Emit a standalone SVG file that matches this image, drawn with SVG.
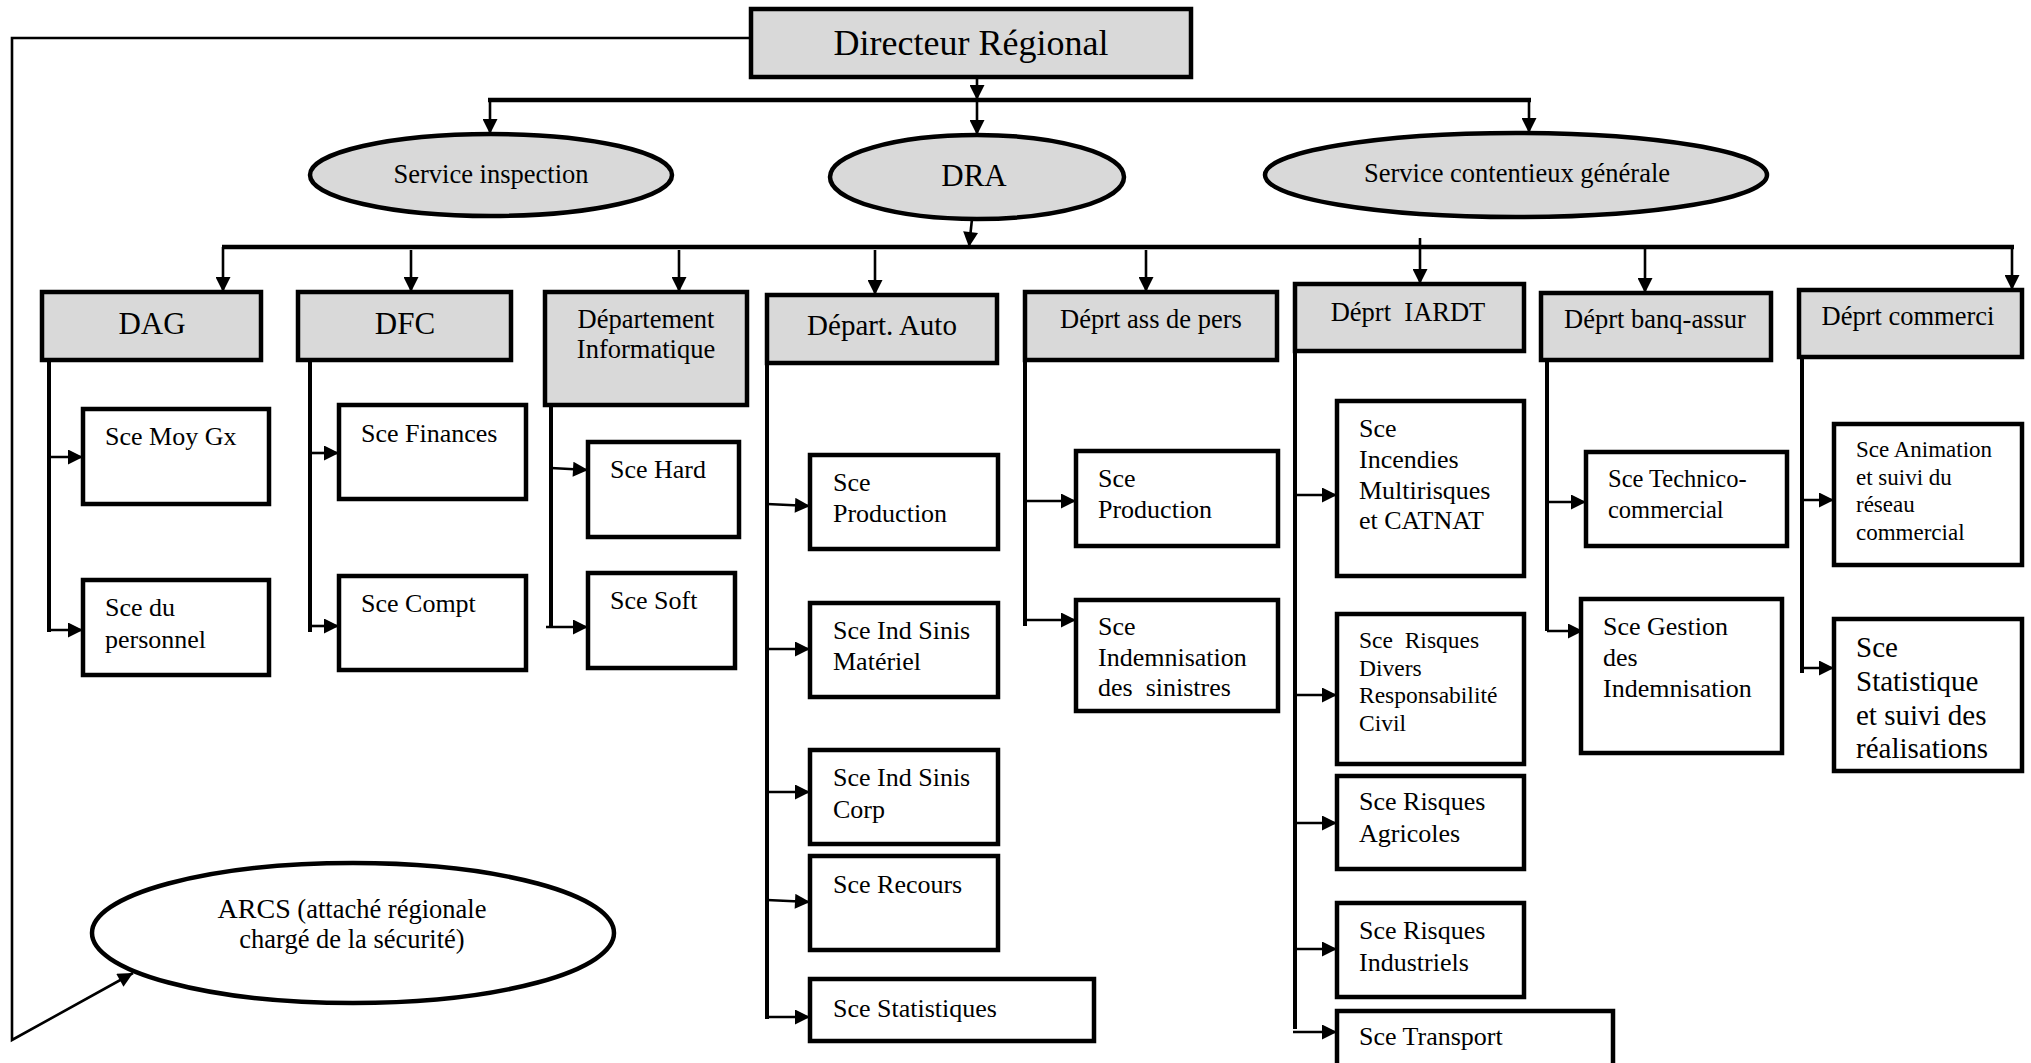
<svg xmlns="http://www.w3.org/2000/svg" width="2031" height="1063" viewBox="0 0 2031 1063">
  <style>
    text { font-family: "Liberation Serif", "Times New Roman", serif; fill: #000; }
    .head { fill: #d9d9d9; stroke: #000; stroke-width: 4.5; }
    .box { fill: #fff; stroke: #000; stroke-width: 4.5; }
    .oval { fill: #d9d9d9; stroke: #000; stroke-width: 4.5; }
    .ln { fill: none; stroke: #000; stroke-width: 2.6; }
    .col { fill: none; stroke: #000; stroke-width: 4; }
    .bar { fill: none; stroke: #000; stroke-width: 4.5; }
    .arr { marker-end: url(#tip); }
    .t2 { font-size: 26.5px; text-anchor: middle; }
    .t3 { font-size: 26px; }
  </style>
  <defs>
    <marker id="tip" viewBox="0 0 10 10" refX="10" refY="5" markerUnits="userSpaceOnUse" markerWidth="16" markerHeight="15" orient="auto">
      <path d="M0,0 L10,5 L0,10 z" fill="#000"/>
    </marker>
  </defs>

  <rect width="2031" height="1063" fill="#fff"/>

  <!-- connectors -->
  <g id="connectors">
    <!-- direct line from the director to ARCS -->
    <polyline class="ln arr" stroke-width="3.2" points="751,38 12,38 12,1040 133,973"/>
    <!-- director to first level -->
    <line class="ln arr" x1="977" y1="77" x2="977" y2="100"/>
    <line class="bar" x1="488" y1="100" x2="1531" y2="100"/>
    <line class="ln arr" x1="490" y1="100" x2="490" y2="134"/>
    <line class="ln arr" x1="977" y1="100" x2="977" y2="135"/>
    <line class="ln arr" x1="1529" y1="100" x2="1529" y2="133"/>
    <!-- DRA to departments -->
    <line class="ln arr" x1="972" y1="219" x2="969" y2="247"/>
    <line class="bar" x1="222" y1="247" x2="2014" y2="247"/>
    <line class="ln arr" x1="223" y1="247" x2="223" y2="292"/>
    <line class="ln arr" x1="411" y1="250" x2="411" y2="292"/>
    <line class="ln arr" x1="679" y1="250" x2="679" y2="292"/>
    <line class="ln arr" x1="875" y1="250" x2="875" y2="295"/>
    <line class="ln arr" x1="1146" y1="250" x2="1146" y2="292"/>
    <line class="ln arr" x1="1420" y1="238" x2="1420" y2="284"/>
    <line class="ln arr" x1="1645" y1="247" x2="1645" y2="293"/>
    <line class="ln arr" x1="2012" y1="247" x2="2012" y2="290"/>

    <!-- DAG services -->
    <line class="col" x1="49" y1="360" x2="49" y2="632"/>
    <line class="ln arr" x1="49" y1="457" x2="83" y2="457"/>
    <line class="ln arr" x1="49" y1="630" x2="83" y2="630"/>
    <!-- DFC services -->
    <line class="col" x1="310" y1="360" x2="310" y2="632"/>
    <line class="ln arr" x1="312" y1="453" x2="339" y2="453"/>
    <line class="ln arr" x1="312" y1="626" x2="339" y2="626"/>
    <!-- IT services -->
    <line class="col" x1="551" y1="405" x2="551" y2="628"/>
    <line class="ln arr" x1="551" y1="468" x2="588" y2="470"/>
    <line class="ln arr" x1="546" y1="627" x2="588" y2="627"/>
    <!-- Auto services -->
    <line class="col" x1="767" y1="363" x2="767" y2="1019"/>
    <line class="ln arr" x1="767" y1="504" x2="810" y2="506"/>
    <line class="ln arr" x1="767" y1="649" x2="810" y2="649"/>
    <line class="ln arr" x1="767" y1="792" x2="810" y2="792"/>
    <line class="ln arr" x1="767" y1="900" x2="810" y2="902"/>
    <line class="ln arr" x1="767" y1="1017" x2="810" y2="1017"/>
    <!-- personal insurance services -->
    <line class="col" x1="1025" y1="360" x2="1025" y2="626"/>
    <line class="ln arr" x1="1025" y1="501" x2="1076" y2="501"/>
    <line class="ln arr" x1="1025" y1="620" x2="1076" y2="620"/>
    <!-- IARDT services -->
    <line class="col" x1="1295" y1="351" x2="1295" y2="1029"/>
    <line class="ln arr" x1="1295" y1="495" x2="1337" y2="495"/>
    <line class="ln arr" x1="1295" y1="695" x2="1337" y2="695"/>
    <line class="ln arr" x1="1295" y1="823" x2="1337" y2="823"/>
    <line class="ln arr" x1="1295" y1="949" x2="1337" y2="949"/>
    <line class="ln arr" x1="1293" y1="1032" x2="1337" y2="1032"/>
    <!-- bancassurance services -->
    <line class="col" x1="1547" y1="360" x2="1547" y2="631"/>
    <line class="ln arr" x1="1547" y1="502" x2="1586" y2="502"/>
    <line class="ln arr" x1="1547" y1="631" x2="1583" y2="631"/>
    <!-- commercial services -->
    <line class="col" x1="1802" y1="357" x2="1802" y2="673"/>
    <line class="ln arr" x1="1800" y1="500" x2="1834" y2="500"/>
    <line class="ln arr" x1="1800" y1="668" x2="1834" y2="668"/>
  </g>

  <!-- top -->
  <g id="directeur">
    <rect class="head" x="751" y="9" width="440" height="68"/>
    <text x="971" y="55" font-size="36" text-anchor="middle">Directeur Régional</text>
  </g>
  <g id="service-inspection">
    <ellipse class="oval" cx="491" cy="175" rx="181" ry="41"/>
    <text x="491" y="183" font-size="26.5" text-anchor="middle">Service inspection</text>
  </g>
  <g id="dra">
    <ellipse class="oval" cx="977" cy="177" rx="147" ry="42"/>
    <text x="974" y="186" font-size="31" text-anchor="middle">DRA</text>
  </g>
  <g id="service-contentieux">
    <ellipse class="oval" cx="1516" cy="175" rx="251" ry="42"/>
    <text x="1517" y="182" font-size="26.5" text-anchor="middle">Service contentieux générale</text>
  </g>
  <g id="arcs">
    <ellipse cx="353" cy="933" rx="261" ry="70" fill="#fff" stroke="#000" stroke-width="4.5"/>
    <text x="352" y="918" font-size="26.5" text-anchor="middle"><tspan font-size="28">ARCS</tspan> (attaché régionale</text>
    <text x="352" y="948" font-size="26.5" text-anchor="middle">chargé de la sécurité)</text>
  </g>

  <!-- departments -->
  <g id="dag">
    <rect class="head" x="42" y="292" width="219" height="68"/>
    <text x="152" y="334" font-size="31" text-anchor="middle">DAG</text>
  </g>
  <g id="dfc">
    <rect class="head" x="298" y="292" width="213" height="68"/>
    <text x="405" y="334" font-size="31" text-anchor="middle">DFC</text>
  </g>
  <g id="dept-informatique">
    <rect class="head" x="545" y="292" width="202" height="113"/>
    <text class="t2" x="646" y="328">Département</text>
    <text class="t2" x="646" y="358">Informatique</text>
  </g>
  <g id="depart-auto">
    <rect class="head" x="767" y="295" width="230" height="68"/>
    <text x="882" y="335" font-size="29" text-anchor="middle">Départ. Auto</text>
  </g>
  <g id="deprt-ass-pers">
    <rect class="head" x="1025" y="292" width="252" height="68"/>
    <text class="t2" x="1151" y="328">Déprt ass de pers</text>
  </g>
  <g id="deprt-iardt">
    <rect class="head" x="1295" y="284" width="229" height="67"/>
    <text class="t2" x="1408" y="321" xml:space="preserve">Déprt  IARDT</text>
  </g>
  <g id="deprt-banq-assur">
    <rect class="head" x="1541" y="293" width="230" height="67"/>
    <text class="t2" x="1655" y="328">Déprt banq-assur</text>
  </g>
  <g id="deprt-commerci">
    <rect class="head" x="1799" y="290" width="223" height="67"/>
    <text class="t2" x="1908" y="325">Déprt commerci</text>
  </g>

  <!-- DAG services -->
  <g id="sce-moy-gx">
    <rect class="box" x="83" y="409" width="186" height="95"/>
    <text class="t3" x="105" y="445">Sce Moy Gx</text>
  </g>
  <g id="sce-personnel">
    <rect class="box" x="83" y="580" width="186" height="95"/>
    <text class="t3" x="105" y="616">Sce du<tspan x="105" dy="32">personnel</tspan></text>
  </g>
  <!-- DFC services -->
  <g id="sce-finances">
    <rect class="box" x="339" y="405" width="187" height="94"/>
    <text class="t3" x="361" y="442">Sce Finances</text>
  </g>
  <g id="sce-compt">
    <rect class="box" x="339" y="576" width="187" height="94"/>
    <text class="t3" x="361" y="612">Sce Compt</text>
  </g>
  <!-- IT services -->
  <g id="sce-hard">
    <rect class="box" x="588" y="442" width="151" height="95"/>
    <text class="t3" x="610" y="478">Sce Hard</text>
  </g>
  <g id="sce-soft">
    <rect class="box" x="588" y="573" width="147" height="95"/>
    <text class="t3" x="610" y="609">Sce Soft</text>
  </g>

  <!-- Auto services -->
  <g id="auto-production">
    <rect class="box" x="810" y="455" width="188" height="94"/>
    <text class="t3" x="833" y="491">Sce<tspan x="833" dy="31">Production</tspan></text>
  </g>
  <g id="auto-ind-materiel">
    <rect class="box" x="810" y="603" width="188" height="94"/>
    <text class="t3" x="833" y="639">Sce Ind Sinis<tspan x="833" dy="31">Matériel</tspan></text>
  </g>
  <g id="auto-ind-corp">
    <rect class="box" x="810" y="750" width="188" height="94"/>
    <text class="t3" x="833" y="786">Sce Ind Sinis<tspan x="833" dy="32">Corp</tspan></text>
  </g>
  <g id="auto-recours">
    <rect class="box" x="810" y="856" width="188" height="94"/>
    <text class="t3" x="833" y="893">Sce Recours</text>
  </g>
  <g id="auto-statistiques">
    <rect class="box" x="810" y="979" width="284" height="62"/>
    <text class="t3" x="833" y="1017">Sce Statistiques</text>
  </g>

  <!-- personal insurance services -->
  <g id="pers-production">
    <rect class="box" x="1076" y="451" width="202" height="95"/>
    <text class="t3" x="1098" y="487">Sce<tspan x="1098" dy="31">Production</tspan></text>
  </g>
  <g id="pers-indemnisation">
    <rect class="box" x="1076" y="600" width="202" height="111"/>
    <text class="t3" x="1098" y="635" xml:space="preserve">Sce<tspan x="1098" dy="30.5">Indemnisation</tspan><tspan x="1098" dy="30.5">des  sinistres</tspan></text>
  </g>

  <!-- IARDT services -->
  <g id="iardt-incendies">
    <rect class="box" x="1337" y="401" width="187" height="175"/>
    <text class="t3" x="1359" y="437">Sce<tspan x="1359" dy="31">Incendies</tspan><tspan x="1359" dy="31">Multirisques</tspan><tspan x="1359" dy="30">et CATNAT</tspan></text>
  </g>
  <g id="iardt-risques-divers">
    <rect class="box" x="1337" y="614" width="187" height="150"/>
    <text x="1359" y="648" font-size="23.5" xml:space="preserve">Sce  Risques<tspan x="1359" dy="27.7">Divers</tspan><tspan x="1359" dy="27.7">Responsabilité</tspan><tspan x="1359" dy="27.7">Civil</tspan></text>
  </g>
  <g id="iardt-agricoles">
    <rect class="box" x="1337" y="776" width="187" height="93"/>
    <text class="t3" x="1359" y="810">Sce Risques<tspan x="1359" dy="32">Agricoles</tspan></text>
  </g>
  <g id="iardt-industriels">
    <rect class="box" x="1337" y="903" width="187" height="94"/>
    <text class="t3" x="1359" y="939">Sce Risques<tspan x="1359" dy="32">Industriels</tspan></text>
  </g>
  <g id="iardt-transport">
    <rect class="box" x="1337" y="1011" width="276" height="60"/>
    <text class="t3" x="1359" y="1045">Sce Transport</text>
  </g>

  <!-- bancassurance services -->
  <g id="banq-technico">
    <rect class="box" x="1586" y="452" width="201" height="94"/>
    <text x="1608" y="487" font-size="24.5">Sce Technico-<tspan x="1608" dy="31">commercial</tspan></text>
  </g>
  <g id="banq-gestion">
    <rect class="box" x="1581" y="599" width="201" height="154"/>
    <text class="t3" x="1603" y="635">Sce Gestion<tspan x="1603" dy="31">des</tspan><tspan x="1603" dy="31">Indemnisation</tspan></text>
  </g>

  <!-- commercial services -->
  <g id="com-animation">
    <rect class="box" x="1834" y="424" width="188" height="141"/>
    <text x="1856" y="457" font-size="23">Sce Animation<tspan x="1856" dy="27.7">et suivi du</tspan><tspan x="1856" dy="27.7">réseau</tspan><tspan x="1856" dy="27.7">commercial</tspan></text>
  </g>
  <g id="com-statistique">
    <rect class="box" x="1834" y="619" width="188" height="152"/>
    <text x="1856" y="657" font-size="29">Sce<tspan x="1856" dy="34">Statistique</tspan><tspan x="1856" dy="34">et suivi des</tspan><tspan x="1856" dy="33">réalisations</tspan></text>
  </g>
</svg>
